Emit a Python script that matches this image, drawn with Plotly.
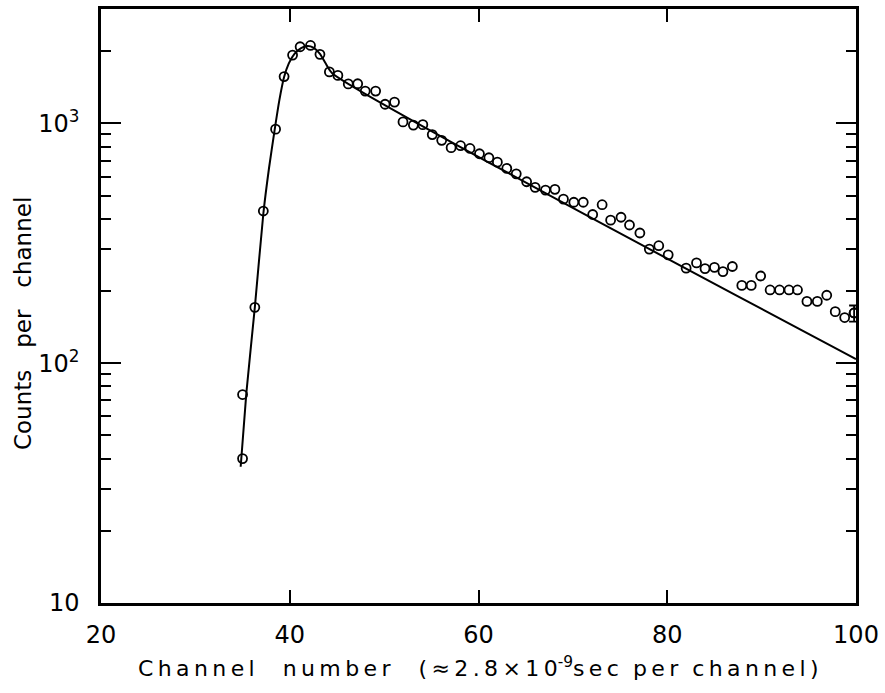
import plotly.graph_objects as go

# Measured data points (channel, counts per channel)
channels = [35.0, 35.0, 36.3, 37.2, 38.5, 39.4, 40.3, 41.1, 42.2, 43.2, 44.2, 45.1,
            46.2, 47.2, 48.0, 49.1, 50.1, 51.1, 52.0, 53.1, 54.1, 55.1, 56.1, 57.1,
            58.1, 59.1, 60.1, 61.1, 62.0, 63.0, 64.0, 65.1, 66.0, 67.1, 68.1, 69.0,
            70.1, 71.1, 72.1, 73.1, 74.0, 75.1, 76.0, 77.1, 78.1, 79.1, 80.1, 82.0,
            83.1, 84.0, 85.0, 85.9, 86.9, 87.9, 88.9, 89.9, 90.9, 91.9, 92.9, 93.8,
            94.8, 95.9, 96.9, 97.8, 98.8, 99.8]
counts = [40, 74, 171, 431, 946, 1567, 1927, 2087, 2113, 1940, 1639, 1585,
          1461, 1463, 1364, 1364, 1202, 1227, 1014, 984, 988, 898, 850, 792,
          807, 786, 747, 719, 689, 649, 616, 571, 541, 527, 531, 483,
          469, 469, 417, 458, 395, 406, 377, 349, 299, 309, 283, 249,
          262, 248, 251, 241, 253, 211, 211, 231, 202, 202, 202, 202,
          181, 181, 192, 164, 155, 162]

# Error bar on the last point only
err_ch = [99.8]
err_val = [162]
err_plus = [12]
err_minus = [13]

# Fitted curve
fit_ch = [34.8, 35.4, 36.3, 37.2, 37.8, 38.4, 38.9, 39.4, 39.9, 40.5, 41.2, 41.9,
          42.5, 43.2, 43.8, 44.5, 100]
fit_val = [37, 75, 171, 420, 650, 940, 1250, 1560, 1780, 1950, 2060, 2100,
           2070, 1950, 1780, 1620, 104]

x_ticks = [20, 40, 60, 80, 100]
y_ticks = [10, 100, 1000]
y_ticktext = ["10", "10<sup>2</sup>", "10<sup>3</sup>"]
y_minor = [20, 30, 40, 50, 60, 70, 80, 90, 200, 300, 400, 500, 600, 700, 800, 900, 2000]

FONT = "DejaVu Sans"
TS = "\u2009"
NB = "\u00a0"


def spaced(word):
    return TS.join(list(word))


x_title = (spaced("Channel") + NB * 4 + spaced("number") + NB * 4
           + spaced("(≈2.8×10") + "<sup>-9</sup>" + spaced("sec") + NB * 2
           + spaced("per") + NB * 2 + spaced("channel)"))
y_title = "Counts" + NB * 3 + "per" + NB * 3 + "channel"

fig = go.Figure()
fig.add_trace(go.Scatter(
    x=fit_ch, y=fit_val, mode="lines",
    line=dict(color="black", width=2, shape="spline", smoothing=0.6),
    showlegend=False, hoverinfo="skip"))
fig.add_trace(go.Scatter(
    x=err_ch, y=err_val, mode="markers",
    marker=dict(symbol="circle-open", size=9, color="black", line=dict(width=1.8, color="black")),
    error_y=dict(type="data", array=err_plus, arrayminus=err_minus, visible=True,
                 color="black", thickness=1.8, width=5),
    showlegend=False))
fig.add_trace(go.Scatter(
    x=channels, y=counts, mode="markers",
    marker=dict(symbol="circle-open", size=9, color="black", line=dict(width=1.8, color="black")),
    showlegend=False))

fig.update_layout(
    width=885, height=693,
    margin=dict(l=101, r=23, t=6, b=90),
    paper_bgcolor="white", plot_bgcolor="white",
    font=dict(family=FONT, color="black"),
)
fig.update_xaxes(
    range=[20, 100], tickvals=x_ticks, ticktext=[str(v) for v in x_ticks],
    ticks="inside", ticklen=13, tickwidth=2, tickcolor="black",
    showline=True, linewidth=2.5, linecolor="black", mirror="ticks",
    showgrid=False, zeroline=False, tickfont=dict(size=24, family=FONT),
    ticklabelstandoff=8,
)
fig.update_yaxes(
    type="log", range=[1, 3.477], tickvals=y_ticks, ticktext=y_ticktext,
    ticks="inside", ticklen=20, tickwidth=2, tickcolor="black",
    minor=dict(tickvals=y_minor, ticks="inside", ticklen=10, tickwidth=1.5, tickcolor="black"),
    showline=True, linewidth=2.5, linecolor="black", mirror="ticks",
    showgrid=False, zeroline=False, tickfont=dict(size=24, family=FONT),
    ticklabelstandoff=14,
)

fig.add_annotation(
    text=x_title,
    xref="paper", yref="paper", x=0.5, y=-0.08, yanchor="top", xanchor="center",
    showarrow=False, font=dict(size=22, family=FONT, color="black"))
fig.add_annotation(
    text=y_title,
    xref="paper", yref="paper", x=-0.103, y=0.47, xanchor="center", yanchor="middle",
    textangle=-90, showarrow=False, font=dict(size=23, family=FONT, color="black"))

fig.write_html("out.html")
